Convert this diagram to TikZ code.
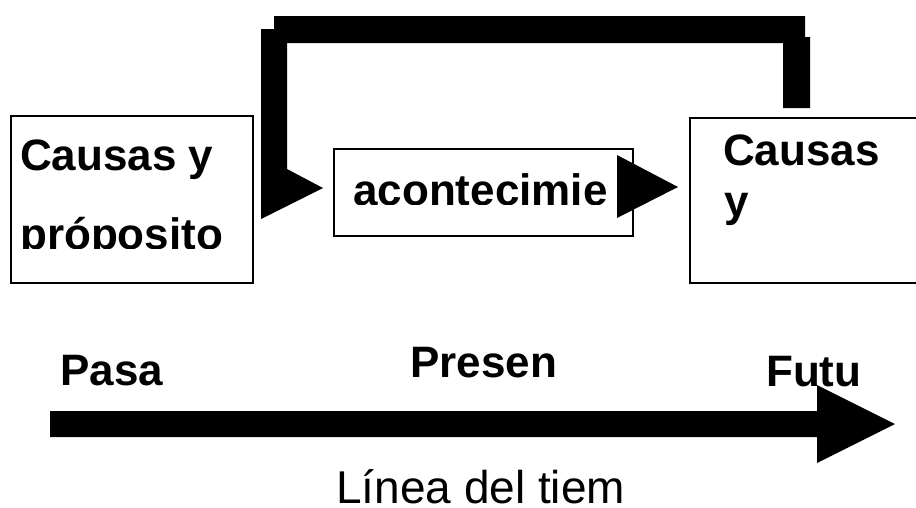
\documentclass[tikz,border=0pt]{standalone}
\usepackage{fontspec}
\setmainfont{Liberation Sans}
\begin{document}
\begin{tikzpicture}[x=1pt,y=-1pt,
  box/.style={draw=black,line width=1.5pt,fill=white,inner sep=0pt,anchor=north west},
  btxt/.style={inner sep=0pt,anchor=base west,font=\fontsize{44}{44}\selectfont\bfseries},
  rtxt/.style={inner sep=0pt,anchor=base west,text depth=0pt,font=\fontsize{46}{46}\selectfont},
  blk/.style={fill=black,draw=none}]
\useasboundingbox (0,0) rectangle (916,507);
% boxes
\node[box,minimum width=242pt,minimum height=167pt] (left) at (10,115) {};
\node[box,minimum width=299pt,minimum height=87pt] (mid) at (333,148) {};
\node[box,minimum width=260pt,minimum height=165pt] (right) at (689,117) {};
% box texts
\node[btxt] (t1) at (20,170) {Causas y};
\begin{scope}
  \clip (12,200) rectangle (250,248);
  \node[btxt] (t2) at (20,249) {próposito};
\end{scope}
\begin{scope}
  \clip (335,160) rectangle (630,204);
  \node[btxt] (t3) at (353,205) {acontecimie};
\end{scope}
\node[btxt] (t4) at (723,165) {Causas};
\node[btxt] (t5) at (724,216) {y};
% feedback connector (right box -> middle box)
\coordinate (fbtip) at (323,188);
\fill[blk] (fbtip) -- (287,169) -- (287,43) -- (783,43) -- (783,108) -- (810,108)
  -- (810,37) -- (805,37) -- (805,16) -- (274,16) -- (274,29) -- (261,29)
  -- (261,219) -- cycle;
% middle -> right arrowhead
\fill[blk] (617,155) -- (678,187) -- (617,218) -- cycle;
% time labels
\begin{scope}
  \clip (40,330) rectangle (300,385);
  \node[btxt] (pasa) at (60,385) {Pasa};
\end{scope}
\node[btxt] (pres) at (410,377) {Presen};
\node[btxt] (futu) at (766,386) {Futu};
% time arrow
\fill[blk] (50,411) -- (817,411) -- (817,385) -- (895,424) -- (817,463) -- (817,437) -- (50,437) -- cycle;
\node[rtxt] (linea) at (336,503) {Línea del tiem};
\end{tikzpicture}
\end{document}
